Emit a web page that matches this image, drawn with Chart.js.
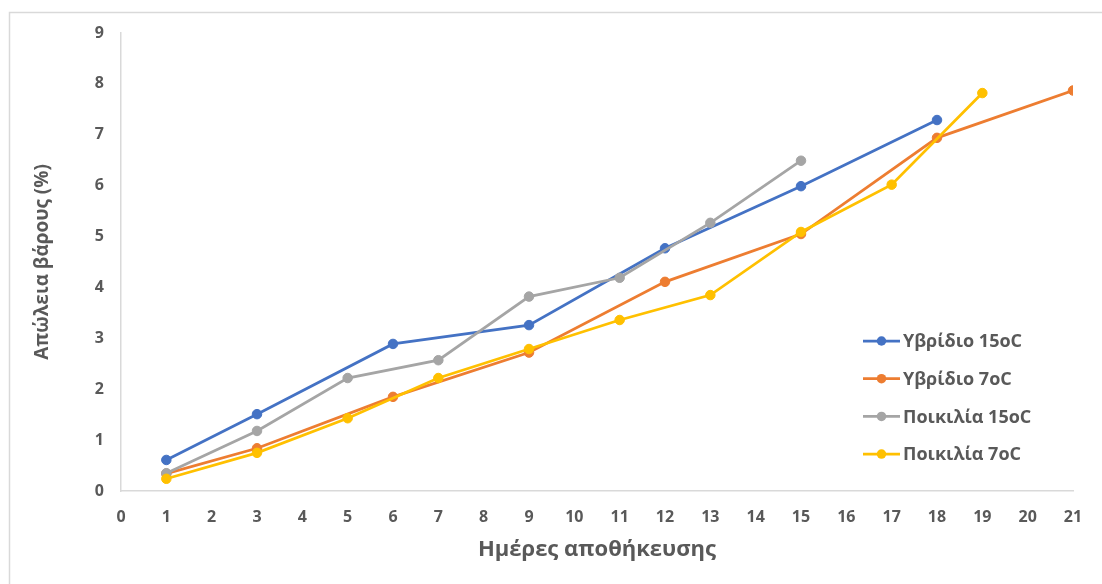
<!DOCTYPE html>
<html>
<head>
<meta charset="utf-8">
<script src="https://cdn.jsdelivr.net/npm/chart.js@4/dist/chart.umd.min.js"></script>
<style>
  html, body { margin: 0; padding: 0; background: #ffffff; }
  #wrap { width: 1102px; height: 584px; position: relative; }
</style>
</head>
<body>
<div id="wrap"><canvas id="c" width="1102" height="584"></canvas></div>
<script>
// Storage days and weight loss (%) for each series
const seriesNames = ['Υβρίδιο 15oC', 'Υβρίδιο 7oC', 'Ποικιλία 15oC', 'Ποικιλία 7oC'];
const seriesColors = ['#4472C4', '#ED7D31', '#A5A5A5', '#FFC000'];

const daysHybrid15 = [1, 3, 6, 9, 12, 15, 18];
const lossHybrid15 = [0.61, 1.51, 2.89, 3.26, 4.77, 5.99, 7.29];

const daysHybrid7 = [1, 3, 6, 9, 12, 15, 18, 21];
const lossHybrid7 = [0.34, 0.84, 1.85, 2.72, 4.11, 5.05, 6.94, 7.87];

const daysVariety15 = [1, 3, 5, 7, 9, 11, 13, 15];
const lossVariety15 = [0.35, 1.18, 2.22, 2.57, 3.82, 4.19, 5.27, 6.49];

const daysVariety7 = [1, 3, 5, 7, 9, 11, 13, 15, 17, 19];
const lossVariety7 = [0.24, 0.75, 1.43, 2.22, 2.79, 3.36, 3.85, 5.09, 6.02, 7.82];

const xTicks = [0, 1, 2, 3, 4, 5, 6, 7, 8, 9, 10, 11, 12, 13, 14, 15, 16, 17, 18, 19, 20, 21];
const yTicks = [0, 1, 2, 3, 4, 5, 6, 7, 8, 9];

const xTitle = 'Ημέρες αποθήκευσης';
const yTitle = 'Απώλεια βάρους (%)';

const FONT = "'Open Sans', 'Noto Sans', 'DejaVu Sans', sans-serif";
const TEXT = '#595959';

const toPoints = (xs, ys) => xs.map((x, i) => ({ x: x, y: ys[i] }));
const allDays = [daysHybrid15, daysHybrid7, daysVariety15, daysVariety7];
const allLoss = [lossHybrid15, lossHybrid7, lossVariety15, lossVariety7];

const datasets = seriesNames.map((name, i) => ({
  label: name,
  data: toPoints(allDays[i], allLoss[i]),
  borderColor: seriesColors[i],
  backgroundColor: seriesColors[i],
  pointBackgroundColor: seriesColors[i],
  pointBorderColor: seriesColors[i],
  borderWidth: 2.75,
  pointRadius: 4.75,
  pointBorderWidth: 1,
  tension: 0,
  order: seriesNames.length - i   // later series painted on top
}));

// Outer frame and white background
const framePlugin = {
  id: 'frame',
  beforeDraw(chart) {
    const ctx = chart.ctx;
    ctx.save();
    ctx.fillStyle = '#ffffff';
    ctx.fillRect(0, 0, chart.width, chart.height);
    ctx.strokeStyle = '#d9d9d9';
    ctx.lineWidth = 1.5;
    ctx.strokeRect(9.5, 12.5, chart.width + 20, chart.height + 20);
    ctx.restore();
  }
};

// Legend drawn inside the plot, at the lower right
const legendPlugin = {
  id: 'insideLegend',
  afterDraw(chart) {
    const ctx = chart.ctx;
    const x0 = 863, lineLen = 37, y0 = 341, step = 37.7;
    ctx.save();
    ctx.font = 'bold 18px ' + FONT;
    ctx.textBaseline = 'middle';
    ctx.textAlign = 'left';
    chart.data.datasets.forEach((ds, i) => {
      const y = y0 + i * step;
      ctx.strokeStyle = ds.borderColor;
      ctx.lineWidth = 2.75;
      ctx.beginPath();
      ctx.moveTo(x0, y);
      ctx.lineTo(x0 + lineLen, y);
      ctx.stroke();
      ctx.fillStyle = ds.borderColor;
      ctx.beginPath();
      ctx.arc(x0 + lineLen / 2, y, 4.75, 0, Math.PI * 2);
      ctx.fill();
      ctx.fillStyle = TEXT;
      ctx.fillText(ds.label, x0 + lineLen + 3, y + 1);
    });
    ctx.restore();
  }
};

new Chart(document.getElementById('c'), {
  type: 'line',
  data: { datasets: datasets },
  options: {
    responsive: false,
    animation: false,
    layout: { padding: { left: 0, right: 29, top: 33, bottom: 0 } },
    plugins: {
      legend: { display: false },
      tooltip: { enabled: false }
    },
    scales: {
      x: {
        type: 'linear',
        min: 0,
        max: 21,
        afterBuildTicks(scale) { scale.ticks = xTicks.map(v => ({ value: v })); },
        afterFit(scale) { scale.height = 93; },
        grid: { display: false, drawTicks: false },
        border: { display: true, color: '#d9d9d9', width: 1.5 },
        ticks: {
          padding: 17,
          color: TEXT,
          font: { family: FONT, size: 16, weight: 'bold' },
          maxRotation: 0,
          autoSkip: false
        },
        title: {
          display: true,
          text: xTitle,
          color: TEXT,
          font: { family: FONT, size: 22, weight: 'bold' },
          padding: { top: 0, bottom: 21 }
        }
      },
      y: {
        type: 'linear',
        min: 0,
        max: 9,
        afterBuildTicks(scale) { scale.ticks = yTicks.map(v => ({ value: v })); },
        afterFit(scale) { scale.width = 121; },
        grid: { display: false, drawTicks: false },
        border: { display: true, color: '#d9d9d9', width: 1.5 },
        ticks: {
          padding: 17,
          color: TEXT,
          font: { family: FONT, size: 16, weight: 'bold' }
        },
        title: {
          display: true,
          text: yTitle,
          color: TEXT,
          font: { family: FONT, size: 19, weight: 'bold' },
          padding: { top: 31, bottom: 0 }
        }
      }
    }
  },
  plugins: [framePlugin, legendPlugin]
});
</script>
</body>
</html>
